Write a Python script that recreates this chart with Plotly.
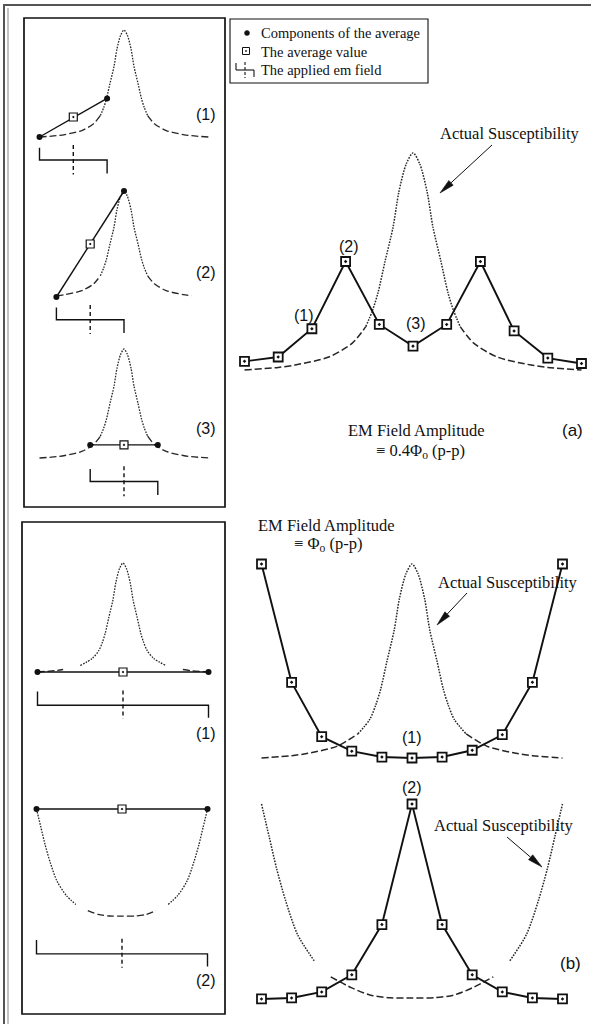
import math
import plotly.graph_objects as go

W, H = 591, 1024

# ---------------- data ----------------
# field steps (x in units of one field step); heights normalised to the susceptibility peak
steps = [-5, -4, -3, -2, -1, 0, 1, 2, 3, 4, 5]
avg_a = [0.04, 0.06, 0.19, 0.50, 0.21, 0.11, 0.21, 0.50, 0.18, 0.055, 0.03]
avg_b1 = [1.0, 0.39, 0.11, 0.035, 0.005, 0.0, 0.005, 0.04, 0.12, 0.39, 1.0]
avg_b2 = [0.03, 0.035, 0.065, 0.15, 0.40, 1.0, 0.40, 0.15, 0.065, 0.035, 0.03]

# actual susceptibility, single peak
sus_x = [-5.0, -4.0, -3.5, -2.5, -1.8, -1.4, -1.2, -1.04, -0.83, -0.59, -0.42, -0.2, 0.0,
         0.2, 0.42, 0.59, 0.83, 1.04, 1.2, 1.4, 1.8, 2.5, 3.5, 4.0, 5.0]
sus_y = [0.0, 0.012, 0.023, 0.06, 0.124, 0.2, 0.275, 0.355, 0.5, 0.66, 0.82, 0.95, 1.0,
         0.95, 0.82, 0.66, 0.5, 0.355, 0.275, 0.2, 0.124, 0.06, 0.023, 0.012, 0.0]
# actual susceptibility, two peaks (U shape)
u_x = [-5.0, -4.75, -4.5, -4.2, -3.8, -3.25, -2.7, -2.0, -1.4, -0.75, 0.0,
       0.75, 1.4, 2.0, 2.7, 3.25, 3.8, 4.2, 4.5, 4.75, 5.0]
u_y = [1.0, 0.84, 0.68, 0.52, 0.35, 0.22, 0.14, 0.085, 0.05, 0.036, 0.035,
       0.036, 0.05, 0.085, 0.14, 0.22, 0.35, 0.52, 0.68, 0.84, 1.0]

# left-hand sketches
a_comp_x = [[-5, -1], [-4, 0], [-2, 2]]
a_comp_y = [[0.0, 0.36], [0.0, 1.0], [0.12, 0.12]]
a_avg_y = [0.187, 0.50, 0.12]
a_field_center = [-3, -2, 0]
a_field_half = 2
a_curve_extent = [5, 4, 5]
a_labels = ["(1)", "(2)", "(3)"]

b_comp_x = [[-5, 5], [-5, 5]]
b_comp_y = [[0.0, 0.0], [1.0, 1.0]]
b_avg_y = [0.0, 1.0]
b_field_center = [0, 0]
b_field_half = 5
b_labels = ["(1)", "(2)"]

legend_items = ["Components of the average", "The average value", "The applied em field"]
sus_label = "Actual Susceptibility"
em_title = "EM Field Amplitude"
em_a = "\u2261 0.4\u03a6<sub>o</sub> (p-p)"
em_b = "\u2261 \u03a6<sub>o</sub> (p-p)"

# ---------------- styling ----------------
INK = "#111111"
CURVE = "#262626"
DOT = "1.6px,1.3px"
TAIL = "7px,3px"
SERIF = "Liberation Serif, Times New Roman, serif"
SANS = "Liberation Sans, Arial, sans-serif"

fig = go.Figure()
axes = {}


def make_axes(n, box, origin, scale):
    x0, x1, y0, y1 = box
    ox, oy = origin
    sx, sy = scale
    sfx = "" if n == 1 else str(n)
    axes["xaxis" + sfx] = dict(domain=[x0 / W, x1 / W], range=[(x0 - ox) / sx, (x1 - ox) / sx],
                               visible=False, anchor="y" + sfx, fixedrange=True)
    axes["yaxis" + sfx] = dict(domain=[1 - y1 / H, 1 - y0 / H], range=[(oy - y1) / sy, (oy - y0) / sy],
                               visible=False, anchor="x" + sfx, fixedrange=True)
    return "x" + sfx, "y" + sfx


def seg(xs, ys, lo, hi):
    pts = [(x, y) for x, y in zip(xs, ys) if lo - 1e-9 <= x <= hi + 1e-9]
    return [p[0] for p in pts], [p[1] for p in pts]


def add_line(ax, xs, ys, dash, width, color):
    fig.add_trace(go.Scatter(x=xs, y=ys, xaxis=ax[0], yaxis=ax[1], mode="lines",
                             line=dict(color=color, width=width, dash=dash, shape="spline", smoothing=0.8),
                             hoverinfo="skip"))


def peak_curve(ax, lim, inner=1.4, width=1.3):
    cx, cy = seg(sus_x, sus_y, -inner, inner)
    add_line(ax, cx, cy, DOT, width, CURVE)
    lx, ly = seg(sus_x, sus_y, -lim, -inner)
    add_line(ax, lx, ly, TAIL, width, CURVE)
    rx, ry = seg(sus_x, sus_y, inner, lim)
    add_line(ax, rx, ry, TAIL, width, CURVE)


def u_curve(ax, inner=2.7, width=1.3):
    cx, cy = seg(u_x, u_y, -inner, inner)
    add_line(ax, cx, cy, TAIL, width, CURVE)
    lx, ly = seg(u_x, u_y, -5, -inner)
    add_line(ax, lx, ly, DOT, width, CURVE)
    rx, ry = seg(u_x, u_y, inner, 5)
    add_line(ax, rx, ry, DOT, width, CURVE)


def bracket(ax, c, h, offs):
    o0, o1, o2, o3 = offs
    fig.add_trace(go.Scatter(x=[c - h, c - h, c + h, c + h], y=[o1, o2, o2, o3], xaxis=ax[0], yaxis=ax[1],
                             mode="lines", line=dict(color=INK, width=1.4), hoverinfo="skip"))
    fig.add_trace(go.Scatter(x=[c, c], y=[o0, o3 - 0.01], xaxis=ax[0], yaxis=ax[1],
                             mode="lines", line=dict(color=INK, width=1.4, dash="4px,3px"), hoverinfo="skip"))


def components(ax, xs, ys, c, avg):
    fig.add_trace(go.Scatter(x=xs, y=ys, xaxis=ax[0], yaxis=ax[1], mode="lines+markers",
                             line=dict(color=INK, width=1.4),
                             marker=dict(symbol="circle", size=6, color=INK), hoverinfo="skip"))
    fig.add_trace(go.Scatter(x=[c], y=[avg], xaxis=ax[0], yaxis=ax[1], mode="markers",
                             marker=dict(symbol="square-dot", size=8, color="white",
                                         line=dict(color=INK, width=1.2)), hoverinfo="skip"))


def avg_series(ax, ys):
    fig.add_trace(go.Scatter(x=steps, y=ys, xaxis=ax[0], yaxis=ax[1], mode="lines+markers",
                             line=dict(color=INK, width=1.9),
                             marker=dict(symbol="square-dot", size=9, color="white",
                                         line=dict(color=INK, width=1.8)), hoverinfo="skip"))


# ---------------- panels ----------------
a_boxes = [(0, 230, 10, 185), (0, 230, 185, 345), (0, 230, 345, 510)]
a_origins = [(124, 137), (124, 297), (124, 458)]
a_scales = [(16.9, 107), (16.9, 106), (16.9, 109)]
n = 1
for i in range(3):
    ax = make_axes(n, a_boxes[i], a_origins[i], a_scales[i]); n += 1
    peak_curve(ax, a_curve_extent[i])
    bracket(ax, a_field_center[i], a_field_half, (-0.075, -0.10, -0.215, -0.34))
    components(ax, a_comp_x[i], a_comp_y[i], a_field_center[i], a_avg_y[i])

b_boxes = [(0, 230, 525, 765), (0, 230, 765, 1020)]
b_origins = [(123, 672), (122, 920)]
b_scales = [(17.1, 109), (17.1, 111)]
for i in range(2):
    ax = make_axes(n, b_boxes[i], b_origins[i], b_scales[i]); n += 1
    if i == 0:
        peak_curve(ax, 5, inner=3.0)
    else:
        u_curve(ax, inner=2.6)
    bracket(ax, b_field_center[i], b_field_half, (-0.17, -0.18, -0.305, -0.42))
    components(ax, b_comp_x[i], b_comp_y[i], b_field_center[i], b_avg_y[i])

ax = make_axes(n, (232, 591, 100, 400), (413, 370), (33.7, 217)); n += 1
peak_curve(ax, 5, width=1.5)
avg_series(ax, avg_a)

ax = make_axes(n, (232, 591, 540, 770), (412, 758), (30.1, 194)); n += 1
peak_curve(ax, 5, inner=1.8, width=1.5)
avg_series(ax, avg_b1)

ax = make_axes(n, (232, 591, 770, 1020), (412, 1005), (30.1, 201)); n += 1
u_curve(ax, inner=3.0, width=1.5)
avg_series(ax, avg_b2)

# ---------------- frames, legend, text ----------------
shapes = []
ann = []


def px(x):
    return x / W


def py(y):
    return 1 - y / H


def rect(x0, y0, x1, y1, width=1.7, fill=None):
    shapes.append(dict(type="rect", xref="paper", yref="paper", x0=px(x0), x1=px(x1), y0=py(y1), y1=py(y0),
                       line=dict(color=INK, width=width), fillcolor=fill if fill else "rgba(0,0,0,0)"))


def seg_line(x0, y0, x1, y1, width=1.2, dash=None, color=INK):
    ln = dict(color=color, width=width)
    if dash:
        ln["dash"] = dash
    shapes.append(dict(type="line", xref="paper", yref="paper", x0=px(x0), x1=px(x1), y0=py(y0), y1=py(y1), line=ln))


def txt(s, x, y, size, family, xanchor="center"):
    ann.append(dict(text=s, x=px(x), y=py(y), xref="paper", yref="paper", showarrow=False,
                    font=dict(size=size, family=family, color=INK), xanchor=xanchor, yanchor="middle"))


def arrow(x_from, y_from, x_to, y_to, head=15.0, half=3.2):
    dx, dy = x_to - x_from, y_to - y_from
    L = math.hypot(dx, dy)
    ux, uy = dx / L, dy / L
    nx, ny = -uy, ux
    bx, by = x_to - ux * head, y_to - uy * head
    seg_line(x_from, y_from, bx, by, width=1.0)
    path = "M{:.5f},{:.5f} L{:.5f},{:.5f} L{:.5f},{:.5f} Z".format(
        px(x_to), py(y_to), px(bx + nx * half), py(by + ny * half), px(bx - nx * half), py(by - ny * half))
    shapes.append(dict(type="path", xref="paper", yref="paper", path=path, fillcolor=INK,
                       line=dict(color=INK, width=0.6)))


# outer page frame (top and left edges visible)
seg_line(3, 5, 591, 5, width=2, color="#555")
seg_line(4, 5, 4, 1024, width=2, color="#555")
seg_line(8, 8, 8, 1024, width=1, color="#888")

# sketch boxes
rect(24, 18, 225, 507)
rect(22, 522, 225, 1014)

# legend
rect(230, 19, 428, 83, width=1.1)
shapes.append(dict(type="circle", xref="paper", yref="paper", x0=px(244.5), x1=px(249.5), y0=py(35.5), y1=py(30.5),
                   fillcolor=INK, line=dict(color=INK, width=0.5)))
rect(242.5, 47.5, 249.5, 54.5, width=1.0, fill="white")
shapes.append(dict(type="circle", xref="paper", yref="paper", x0=px(245.3), x1=px(246.7), y0=py(51.7), y1=py(50.3),
                   fillcolor=INK, line=dict(color=INK, width=0.5)))
seg_line(236, 63, 236, 70, width=1.1)
seg_line(236, 70, 254, 70, width=1.1)
seg_line(254, 70, 254, 77, width=1.1)
seg_line(245, 62, 245, 78, width=1.1, dash="3px,2px")
for k, s in enumerate(legend_items):
    txt(s, 259, 33 + 18.5 * k, 14.5, SERIF, xanchor="left")

# left sketch labels
for s, y in zip(a_labels, [114, 272, 428]):
    txt(s, 206, y, 16, SANS)
for s, y in zip(b_labels, [733, 980]):
    txt(s, 206, y, 16, SANS)

# right panel labels
txt("(2)", 349, 246, 16, SANS)
txt("(1)", 304, 315, 16, SANS)
txt("(3)", 416, 323, 16, SANS)
txt("(a)", 572, 430, 17, SANS)
txt("(1)", 412, 737, 16, SANS)
txt("(2)", 412, 787, 16, SANS)
txt("(b)", 570, 963, 17, SANS)

txt(em_title, 416, 430, 16.5, SERIF)
txt(em_a, 420, 451, 16.5, SERIF)
txt(em_title, 326, 525, 16.5, SERIF)
txt(em_b, 328, 544, 16.5, SERIF)

txt(sus_label, 510, 133, 16.5, SERIF)
arrow(492, 145, 440, 193)
txt(sus_label, 508, 582, 16.5, SERIF)
arrow(467, 593, 437, 625)
txt(sus_label, 504, 825, 16.5, SERIF)
arrow(507, 837, 542, 867)

fig.update_layout(width=W, height=H, margin=dict(l=0, r=0, t=0, b=0), showlegend=False,
                  plot_bgcolor="white", paper_bgcolor="white", shapes=shapes, annotations=ann, **axes)
fig.write_html("out.html")
